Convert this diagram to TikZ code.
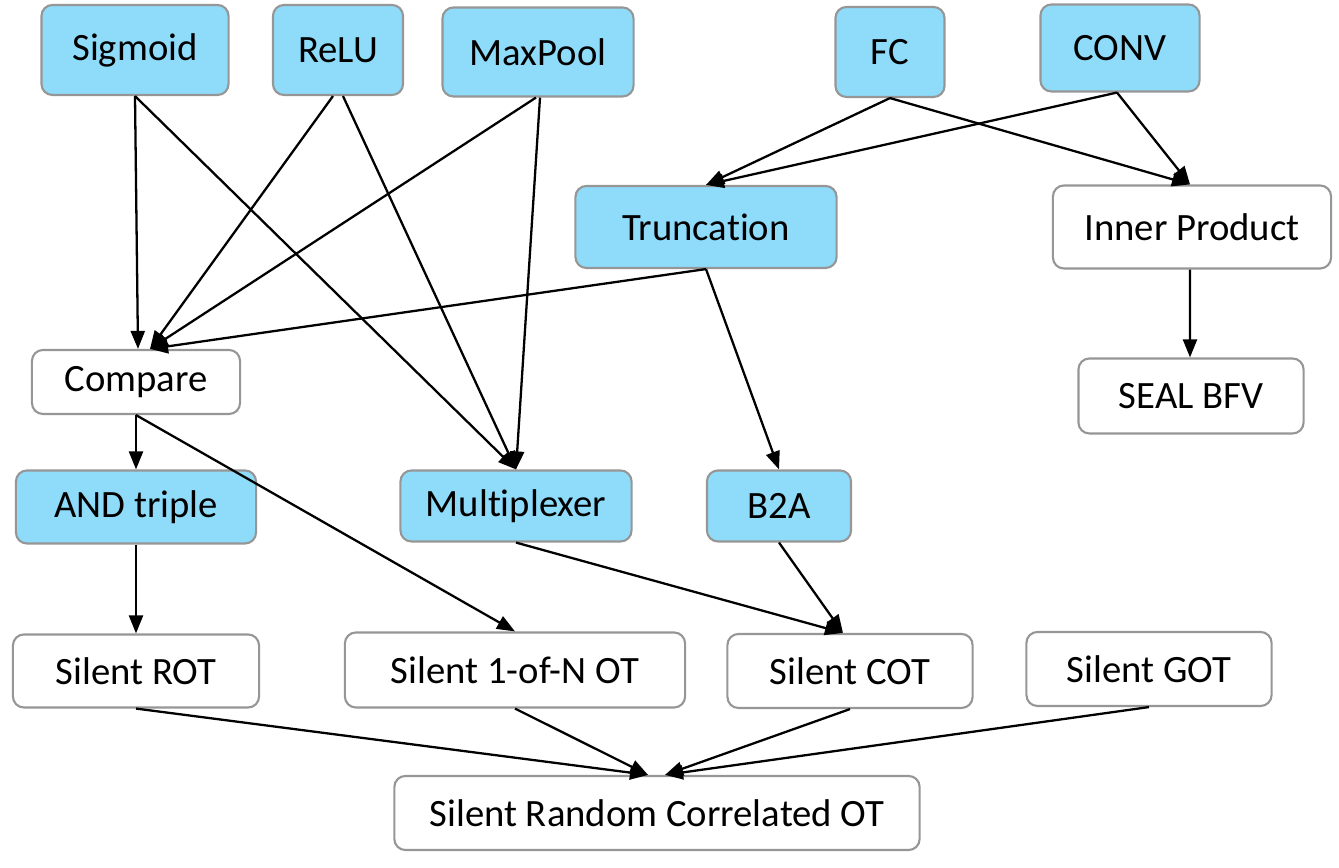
\documentclass[tikz,border=0pt]{standalone}
\usepackage{fontspec}
\setmainfont{Carlito}[Ligatures=NoCommon]
\usepackage{tikz}
\usetikzlibrary{arrows.meta}
\definecolor{opblue}{RGB}{142,219,250}
\definecolor{boxgray}{RGB}{150,150,150}

\begin{document}
\begin{tikzpicture}[
    x=0.01cm, y=-0.01cm, % one unit is one pixel of the layout, y grows downwards
    every node/.style={
        draw=boxgray, % grey border round the nodes
        line width=0.6pt,
        rounded corners=0.11cm, % rounded corners for nodes
        align=center, % centre text within nodes
        font=\fontsize{11}{13}\selectfont
    },
    op/.style={fill=opblue}, % light blue fill for the operations
    prim/.style={fill=white}, % white fill for the primitives
    link/.style={draw, line width=0.65pt, -{Triangle[length=1.8mm,width=1.4mm]}} % style for the connecting lines (arrows)
]
\useasboundingbox (0,0) rectangle (1339,868);

% top row
\node[op, minimum width=1.87cm, minimum height=0.90cm] (sigmoid) at (135,50) {Sigmoid};
\node[op, minimum width=1.30cm, minimum height=0.90cm] (relu) at (338,50) {ReLU};
\node[op, minimum width=1.91cm, minimum height=0.89cm] (maxpool) at (538,52) {MaxPool};
\node[op, minimum width=1.09cm, minimum height=0.90cm] (fc) at (890,52) {FC};
\node[op, minimum width=1.59cm, minimum height=0.87cm] (conv) at (1120,48) {CONV};

% second row
\node[op, minimum width=2.61cm, minimum height=0.82cm] (trunc) at (706,227) {Truncation};
\node[prim, minimum width=2.78cm, minimum height=0.83cm] (inner) at (1192,227) {Inner Product};

% third row
\node[prim, minimum width=2.08cm, minimum height=0.64cm] (cmp) at (136,382) {Compare};
\node[prim, minimum width=2.25cm, minimum height=0.75cm] (seal) at (1191,396) {SEAL BFV};

% fourth row
\node[op, minimum width=2.40cm, minimum height=0.73cm] (andt) at (136,507) {AND triple};
\node[op, minimum width=2.31cm, minimum height=0.71cm] (mux) at (516,506) {Multiplexer};
\node[op, minimum width=1.44cm, minimum height=0.71cm] (btoa) at (779,506) {B2A};

% silent OT row
\node[prim, minimum width=2.46cm, minimum height=0.73cm] (rot) at (136,671) {Silent ROT};
\node[prim, minimum width=3.40cm, minimum height=0.75cm] (onen) at (515,670) {Silent 1-of-N OT};
\node[prim, minimum width=2.45cm, minimum height=0.74cm] (cot) at (850,671) {Silent COT};
\node[prim, minimum width=2.45cm, minimum height=0.74cm] (got) at (1149,669) {Silent GOT};

% bottom
\node[prim, minimum width=5.25cm, minimum height=0.74cm] (rcot) at (657,813) {Silent Random Correlated OT};

% connectors
\draw[link] (sigmoid.south) -- ([xshift=0.02cm]cmp.north);
\draw[link] (sigmoid.south) -- (mux.north);
\draw[link] ([xshift=-0.05cm]relu.south) -- ([xshift=0.14cm]cmp.north);
\draw[link] ([xshift=0.05cm]relu.south) -- (mux.north);
\draw[link] ([xshift=-0.02cm]maxpool.south) -- ([xshift=0.14cm]cmp.north);
\draw[link] ([xshift=0.02cm]maxpool.south) -- (mux.north);
\draw[link] (fc.south) -- (trunc.north);
\draw[link] (fc.south) -- ([xshift=-0.02cm]inner.north);
\draw[link] ([xshift=-0.03cm]conv.south) -- (trunc.north);
\draw[link] ([xshift=-0.03cm]conv.south) -- ([xshift=-0.02cm]inner.north);
\draw[link] (trunc.south) -- ([xshift=0.14cm]cmp.north);
\draw[link] (trunc.south) -- (btoa.north);
\draw[link] ([xshift=-0.02cm]inner.south) -- ([xshift=-0.01cm]seal.north);
\draw[link] (cmp.south) -- (andt.north);
\draw[link] (cmp.south) -- (onen.north);
\draw[link] (andt.south) -- (rot.north);
\draw[link] (mux.south) -- ([xshift=-0.07cm]cot.north);
\draw[link] (btoa.south) -- ([xshift=-0.07cm]cot.north);
\draw[link] (rot.south) -- ([xshift=-0.09cm]rcot.north);
\draw[link] (onen.south) -- ([xshift=-0.09cm]rcot.north);
\draw[link] (cot.south) -- ([xshift=0.08cm]rcot.north);
\draw[link] (got.south) -- ([xshift=0.08cm]rcot.north);
\end{tikzpicture}
\end{document}
